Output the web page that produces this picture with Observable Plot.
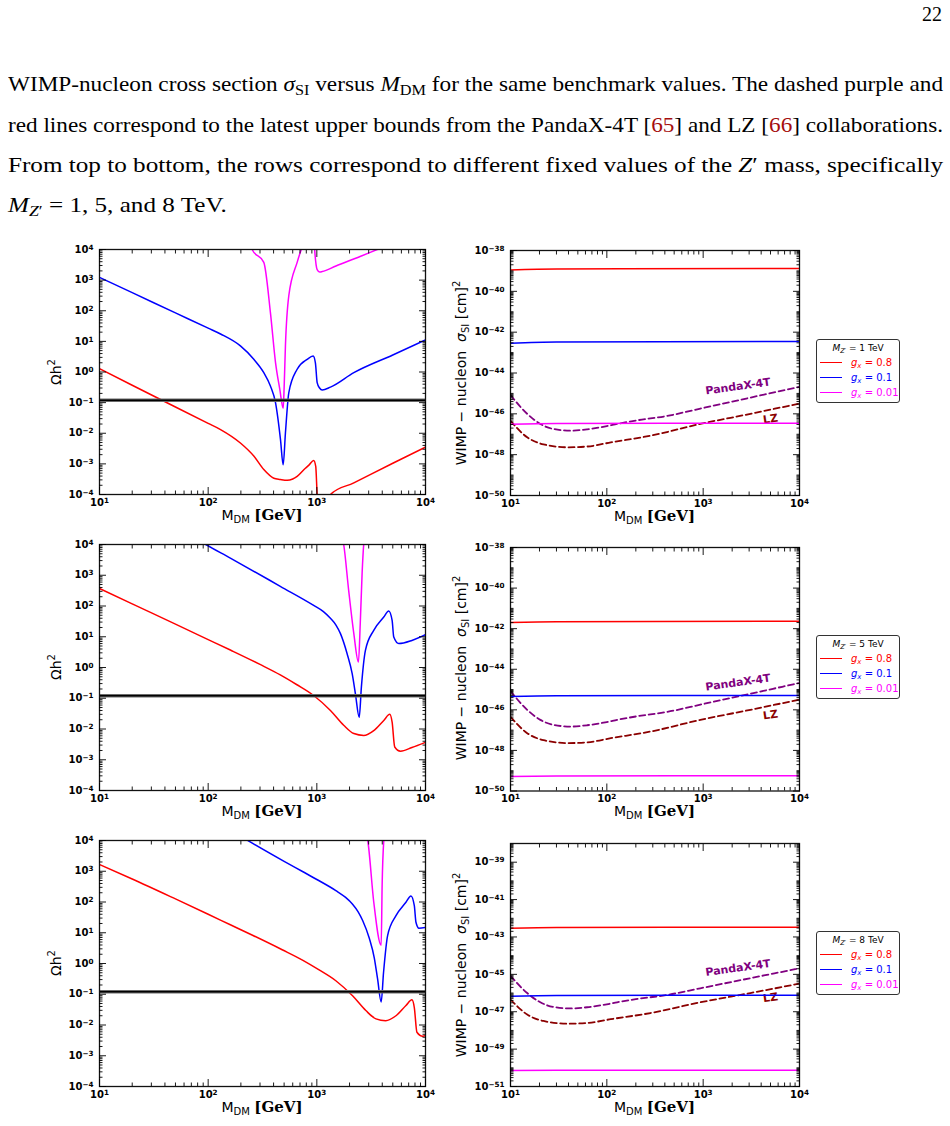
<!DOCTYPE html>
<html>
<head>
<meta charset="utf-8">
<script src="https://cdn.jsdelivr.net/npm/d3@7"></script>
<script src="https://cdn.jsdelivr.net/npm/@observablehq/plot@0.6"></script>
<style>
  html, body { margin: 0; padding: 0; background: #fff; }
  body { position: relative; width: 950px; height: 1126px; overflow: hidden; }
  .txt { position: absolute; font-family: "Liberation Serif", "Times New Roman", serif; font-size: 21px; color: #000; line-height: 40px; white-space: nowrap; transform-origin: 0 50%; }
  .txt sub { font-size: 0.7em; vertical-align: baseline; position: relative; top: 0.28em; }
  .ref { color: #a50d0d; }
  .panel { position: absolute; }
  .xlab, .ylab { position: absolute; white-space: nowrap; font-family: "DejaVu Sans", sans-serif; font-size: 14px; color: #000; line-height: 18px; }
  .xlab { transform: translateX(-50%); }
  .ylab { transform: translate(-50%, -50%) rotate(-90deg); }
  .xlab sub, .ylab sub { font-size: 10px; vertical-align: baseline; position: relative; top: 3px; }
  .ylab sup { font-size: 10px; vertical-align: baseline; position: relative; top: -6px; }
  .gev { font-family: "DejaVu Serif", serif; font-weight: bold; font-size: 15px; }
  .legend { position: absolute; width: 84px; height: 64px; border: 1px solid #333; border-radius: 3px; background: #fff;
            font-family: "DejaVu Sans", sans-serif; box-sizing: border-box; }
  .legend .title { position: absolute; left: 0; width: 100%; top: 2px; text-align: center; font-size: 9px; line-height: 12px; }
  .legend .title sub { font-size: 6.5px; position: relative; top: 2px; vertical-align: baseline; }
  .legend .item { position: absolute; left: 3px; height: 14px; line-height: 14px; font-size: 10px; white-space: nowrap; }
  .legend .swatch { position: absolute; left: 0; top: 6px; width: 22px; height: 0; border-top: 1.5px solid; }
  .legend .lbl { position: absolute; left: 31px; top: 0; }
  .legend .lbl sub { font-size: 7px; position: relative; top: 2px; vertical-align: baseline; }
</style>
</head>
<body>
<div class="txt" style="right:8px; top:-6px; font-size:20px;">22</div>
<div class="txt para" style="left:8px; top:64px;">WIMP-nucleon cross section <i>σ</i><sub>SI</sub> versus <i>M</i><sub>DM</sub> for the same benchmark values. The dashed purple and</div>
<div class="txt para" style="left:8px; top:105px;">red lines correspond to the latest upper bounds from the PandaX-4T [<span class="ref">65</span>] and LZ [<span class="ref">66</span>] collaborations.</div>
<div class="txt para" style="left:8px; top:145px;">From top to bottom, the rows correspond to different fixed values of the <i>Z</i>′ mass, specifically</div>
<div class="txt last" style="left:8px; top:185px;"><i>M</i><sub><i>Z</i>′</sub> = 1, 5, and 8 TeV.</div>

<script>
// ---------------------------------------------------------------
// Relic abundance Ωh² versus M_DM [GeV]  ([mass, Ωh²] pairs)
// ---------------------------------------------------------------
const relic_1TeV_g08 = [[10,1.29],[20,0.37],[50,0.072],[100,0.021],[130,0.0132],[198,0.0048],[263,0.0018],[325,6.5e-4],[402,3.4e-4],[460,3.1e-4],[533,2.9e-4],[600,3.2e-4],[659,3.9e-4],[785,7.2e-4],[850,9.3e-4],[935,1.29e-3],[977,8.3e-4],[1007,1e-4],[1030,4e-5],[1100,3.5e-5],[1335,1e-4],[2190,2.4e-4],[5000,1.05e-3],[10000,3.5e-3]];
const relic_1TeV_g01 = [[10,1230],[20,390],[50,85],[100,27],[130,17.4],[198,7.1],[263,2.6],[325,0.95],[374,0.35],[417,0.098],[463,6.2e-3],[490,9.3e-4],[514,0.0102],[552,0.21],[659,1.23],[815,2.6],[925,3.3],[970,2.0],[1007,0.45],[1060,0.3],[1120,0.26],[1335,0.32],[2190,0.95],[5000,3.6],[10000,11.2]];
const relic_1TeV_g001 = [[230,3.9e4],[254,1e4],[325,3800],[374,87],[417,2.0],[456,0.275],[490,0.065],[500,0.3],[514,7.1],[552,309],[659,3800],[720,1e4],[800,2e4],[900,3e4],[940,2.5e4],[955,1e4],[1007,2200],[1060,1850],[1120,1900],[1500,2900],[2500,5900],[3590,1e4],[5000,1.6e4]];

const relic_5TeV_g08 = [[10,370],[20,117],[50,25.7],[100,8.1],[160,3.7],[300,1.26],[461,0.575],[650,0.28],[935,0.123],[1334,0.040],[1767,0.0132],[2190,7.1e-3],[2700,6.2e-3],[3340,8.9e-3],[4130,0.019],[4690,0.030],[4930,0.0166],[5210,2.6e-3],[5890,1.9e-3],[7500,2.5e-3],[10000,3.7e-3]];
const relic_5TeV_g01 = [[50,4.0e4],[95,1e4],[160,3630],[461,437],[935,105],[1150,66],[1334,40],[1500,24],[1650,12.6],[1900,2.8],[2115,0.63],[2265,0.14],[2455,0.024],[2570,0.23],[2800,3.6],[3340,16.2],[4130,43.7],[4590,69],[4930,33.9],[5105,9.8],[5680,6.0],[7500,7.6],[10000,11.7]];
const relic_5TeV_g001 = [[1700,2e4],[1767,1e4],[1963,324],[2190,12.6],[2415,1.5],[2510,27],[2610,1150],[2700,1e4],[2800,2.5e4]];

const relic_8TeV_g08 = [[10,1650],[20,560],[50,126],[100,40],[160,18.2],[256,8.3],[480,2.8],[738,1.29],[1040,0.63],[1496,0.275],[2133,0.089],[2825,0.0295],[3500,0.0158],[4300,0.0138],[5350,0.020],[6610,0.043],[7500,0.066],[7890,0.037],[8340,5.8e-3],[9420,4.3e-3],[10000,4.5e-3]];
const relic_8TeV_g01 = [[200,1.35e4],[500,2100],[738,980],[1000,540],[1496,235],[1840,141],[2133,85],[2400,48],[2640,25],[3040,6.6],[3380,1.5],[3620,0.32],[3910,0.056],[4110,0.51],[4480,8.1],[5350,36],[6610,98],[7350,158],[7890,76],[8170,22],[8700,14],[10000,15]];
const relic_8TeV_g001 = [[2800,2e4],[2940,1e4],[3340,100],[3910,3.9],[3990,350],[4130,1e4],[4300,3e4]];

// Observed relic density
const omegaObs = [0.12];

// ---------------------------------------------------------------
// Spin-independent WIMP-nucleon cross section σ_SI [cm²]
// ---------------------------------------------------------------
const sigma_1TeV_g08 = [[10,1.12e-39],[30,1.25e-39],[10000,1.32e-39]];
const sigma_1TeV_g01 = [[10,2.9e-43],[30,3.3e-43],[10000,3.5e-43]];
const sigma_1TeV_g001 = [[10,3.1e-47],[30,3.4e-47],[10000,3.5e-47]];

const sigma_5TeV_g08 = [[10,2.0e-42],[30,2.2e-42],[10000,2.3e-42]];
const sigma_5TeV_g01 = [[10,4.6e-46],[30,5.0e-46],[10000,5.1e-46]];
const sigma_5TeV_g001 = [[10,5.2e-50],[30,5.5e-50],[10000,5.6e-50]];

const sigma_8TeV_g08 = [[10,2.95e-43],[30,3.2e-43],[10000,3.3e-43]];
const sigma_8TeV_g01 = [[10,6.8e-47],[30,7.4e-47],[10000,7.6e-47]];
const sigma_8TeV_g001 = [[10,7.2e-51],[30,7.4e-51],[10000,7.4e-51]];

// Experimental upper bounds
const pandax4t = [[10,8.3e-46],[14.9,1.0e-46],[20.4,3.2e-47],[28,1.8e-47],[42,1.5e-47],[62.5,1.74e-47],[100,2.5e-47],[128,3.2e-47],[200,4.7e-47],[424,7.9e-47],[935,1.8e-46],[2450,4.9e-46],[10000,2.1e-45]];
const lz = [[10,4.5e-47],[14.9,7.1e-48],[22,3.2e-48],[39,2.3e-48],[62.5,2.5e-48],[110,4.0e-48],[284,8.5e-48],[935,3.2e-47],[3090,1.0e-46],[10000,3.2e-46]];
const boundLabels = [
  {name: "PandaX-4T", m: 2300, sigma: 2.2e-45, color: "purple"},
  {name: "LZ", m: 5000, sigma: 5.6e-47, color: "darkred"}
];

// Couplings and Z' masses
const couplings = ["0.8", "0.1", "0.01"];
const couplingColors = ["#ff0000", "#0000ff", "#ff00ff"];
const zMasses = ["1", "5", "8"];

const relicSeries = [
  [relic_1TeV_g08, relic_1TeV_g01, relic_1TeV_g001],
  [relic_5TeV_g08, relic_5TeV_g01, relic_5TeV_g001],
  [relic_8TeV_g08, relic_8TeV_g01, relic_8TeV_g001]
];
const sigmaSeries = [
  [sigma_1TeV_g08, sigma_1TeV_g01, sigma_1TeV_g001],
  [sigma_5TeV_g08, sigma_5TeV_g01, sigma_5TeV_g001],
  [sigma_8TeV_g08, sigma_8TeV_g01, sigma_8TeV_g001]
];
// y-range exponents and labelled-tick exponents of the σ_SI panels
const sigmaRange = [[-50, -38], [-50, -38], [-51, -38]];
const sigmaLabelStart = [-50, -50, -51];

// ---------------------------------------------------------------
// Layout: frame boxes [x0, y0, x1, y1] in page pixels
// ---------------------------------------------------------------
const leftFrames = [[99, 249, 425, 494], [99, 544, 425, 790], [99, 840, 425, 1086]];
const rightFrames = [[510, 250, 799, 495], [510, 546.5, 799, 790], [510, 843, 799, 1086]];

// paragraph lines are stretched to the full text width
(function fitText() {
  const target = 935;
  let k = 1;
  document.querySelectorAll(".txt.para").forEach(el => {
    const w = el.getBoundingClientRect().width;
    k = target / w;
    el.style.transform = `scaleX(${k})`;
  });
  document.querySelectorAll(".txt.last").forEach(el => { el.style.transform = `scaleX(${k})`; });
})();

// tick labels as 10 with a raised exponent
const pow10 = d => "10^" + String(Math.round(Math.log10(d))).replace("-", "−");
const none = () => "";
function raiseExponents(svg) {
  svg.querySelectorAll('g[aria-label$="tick label"] text').forEach(t => {
    const s = t.textContent;
    const i = s.indexOf("^");
    if (i < 0) return;
    t.textContent = s.slice(0, i);
    const ts = document.createElementNS("http://www.w3.org/2000/svg", "tspan");
    ts.setAttribute("dy", "-0.42em");
    ts.setAttribute("font-size", "7.2px");
    ts.textContent = s.slice(i + 1);
    t.appendChild(ts);
  });
}

function decades(lo, hi, step = 1) {
  const out = [];
  for (let e = lo; e <= hi; e += step) out.push(Math.pow(10, e));
  return out;
}
function minors(lo, hi, labelled) {
  const out = [];
  for (let e = lo; e < hi; e++) {
    for (let k = 1; k <= 9; k++) {
      if (k === 1 && labelled.includes(e)) continue;
      out.push(k * Math.pow(10, e));
    }
  }
  return out;
}

// inward ticks on all four sides + labels on left and bottom
function frameAxes(xMaj, xMin, yMaj, yMin, yLab) {
  const tickOpts = (ticks, size) => ({ticks, tickSize: size, tickFormat: none, label: null, strokeWidth: 0.9});
  return [
    Plot.axisX({anchor: "bottom", ...tickOpts(xMaj, -7)}),
    Plot.axisX({anchor: "top", ...tickOpts(xMaj, -7)}),
    Plot.axisX({anchor: "bottom", ...tickOpts(xMin, -3.5)}),
    Plot.axisX({anchor: "top", ...tickOpts(xMin, -3.5)}),
    Plot.axisY({anchor: "left", ...tickOpts(yMaj, -7)}),
    Plot.axisY({anchor: "right", ...tickOpts(yMaj, -7)}),
    Plot.axisY({anchor: "left", ...tickOpts(yMin, -3.5)}),
    Plot.axisY({anchor: "right", ...tickOpts(yMin, -3.5)}),
    Plot.axisX({anchor: "bottom", ticks: xMaj, tickSize: 0, tickPadding: 4, tickFormat: pow10, label: null}),
    Plot.axisY({anchor: "left", ticks: yLab, tickSize: 0, tickPadding: 6, tickFormat: pow10, label: null})
  ];
}

const xMajor = decades(1, 4);
const xMinor = minors(1, 4, [1, 2, 3]);
const mx = d => d[0];
const vy = d => d[1];

function place(el, left, top) {
  el.classList.add("panel");
  el.style.left = left + "px";
  el.style.top = top + "px";
  document.body.appendChild(el);
  raiseExponents(el);
}
function addHTML(html) {
  const t = document.createElement("template");
  t.innerHTML = html.trim();
  const el = t.content.firstChild;
  document.body.appendChild(el);
  return el;
}
const svgStyle = {fontFamily: "DejaVu Sans", fontWeight: "bold", fontSize: "10px", color: "#000", background: "transparent", overflow: "visible"};

// ---------------- relic-density panels ----------------
relicSeries.forEach((series, i) => {
  const [x0, y0, x1, y1] = leftFrames[i];
  const mT = 10, mB = 22, mR = 15;
  const yMaj = decades(-4, 4);
  const yMin = minors(-4, 4, d3.range(-4, 5));
  const chart = Plot.plot({
    width: x1 + mR, height: (y1 - y0) + mT + mB,
    marginLeft: x0, marginRight: mR, marginTop: mT, marginBottom: mB,
    x: {type: "log", domain: [10, 1e4], label: null},
    y: {type: "log", domain: [1e-4, 1e4], label: null},
    style: svgStyle,
    marks: [
      ...series.map((s, k) => Plot.line(s, {x: mx, y: vy, stroke: couplingColors[k], strokeWidth: 1.5, curve: "monotone-x", clip: true})),
      Plot.ruleY(omegaObs, {stroke: "#6a6a6a", strokeWidth: 3.6}),
      Plot.ruleY(omegaObs, {stroke: "#000", strokeWidth: 1.4}),
      Plot.frame({stroke: "#111", strokeWidth: 1.3}),
      ...frameAxes(xMajor, xMinor, yMaj, yMin, yMaj)
    ]
  });
  place(chart, 0, y0 - mT);
  addHTML(`<div class="xlab" style="left:${(x0 + x1) / 2}px; top:${y1 + 12}px;">M<sub>DM</sub> <span class="gev">[GeV]</span></div>`);
  addHTML(`<div class="ylab" style="left:57px; top:${(y0 + y1) / 2}px;">Ωh<sup>2</sup></div>`);
});

// ---------------- cross-section panels ----------------
sigmaSeries.forEach((series, i) => {
  const [x0, y0, x1, y1] = rightFrames[i];
  const left = 440, mT = 10, mB = 22, mR = 12;
  const [lo, hi] = sigmaRange[i];
  const labExps = d3.range(sigmaLabelStart[i], hi + 1, 2);
  const yLab = labExps.map(e => Math.pow(10, e));
  const yMin = minors(lo, hi, labExps);
  const chart = Plot.plot({
    width: (x1 - left) + mR, height: (y1 - y0) + mT + mB,
    marginLeft: x0 - left, marginRight: mR, marginTop: mT, marginBottom: mB,
    x: {type: "log", domain: [10, 1e4], label: null},
    y: {type: "log", domain: [Math.pow(10, lo), Math.pow(10, hi)], label: null},
    style: svgStyle,
    marks: [
      Plot.line(pandax4t, {x: mx, y: vy, stroke: "purple", strokeWidth: 1.8, strokeDasharray: "6,3.5", curve: "monotone-x", clip: true}),
      Plot.line(lz, {x: mx, y: vy, stroke: "darkred", strokeWidth: 1.8, strokeDasharray: "6,3.5", curve: "monotone-x", clip: true}),
      Plot.text(boundLabels, {x: "m", y: "sigma", text: "name", fill: "color", rotate: -8, fontSize: 11, fontWeight: "bold"}),
      ...series.map((s, k) => Plot.line(s, {x: mx, y: vy, stroke: couplingColors[k], strokeWidth: 1.5, curve: "monotone-x", clip: true})),
      Plot.frame({stroke: "#111", strokeWidth: 1.3}),
      ...frameAxes(xMajor, xMinor, yLab, yMin, yLab)
    ]
  });
  place(chart, left, y0 - mT);
  addHTML(`<div class="xlab" style="left:${(x0 + x1) / 2}px; top:${y1 + 12}px;">M<sub>DM</sub> <span class="gev">[GeV]</span></div>`);
  addHTML(`<div class="ylab" style="left:462px; top:${(y0 + y1) / 2}px;">WIMP − nucleon&nbsp; <i>σ</i><sub>SI</sub> [cm]<sup>2</sup></div>`);

  // legend box to the right of each cross-section panel
  const cy = (y0 + y1) / 2 - 1.5;
  const items = couplings.map((g, k) =>
    `<div class="item" style="top:${16 + k * 15}px; color:${couplingColors[k]};"><span class="swatch" style="border-color:${couplingColors[k]};"></span><span class="lbl"><i>g</i><sub><i>x</i></sub> = ${g}</span></div>`
  ).join("");
  addHTML(`<div class="legend" style="left:816px; top:${cy - 32}px;"><div class="title"><i>M</i><sub><i>Z′</i></sub> = ${zMasses[i]} TeV</div>${items}</div>`);
});
</script>
</body>
</html>
